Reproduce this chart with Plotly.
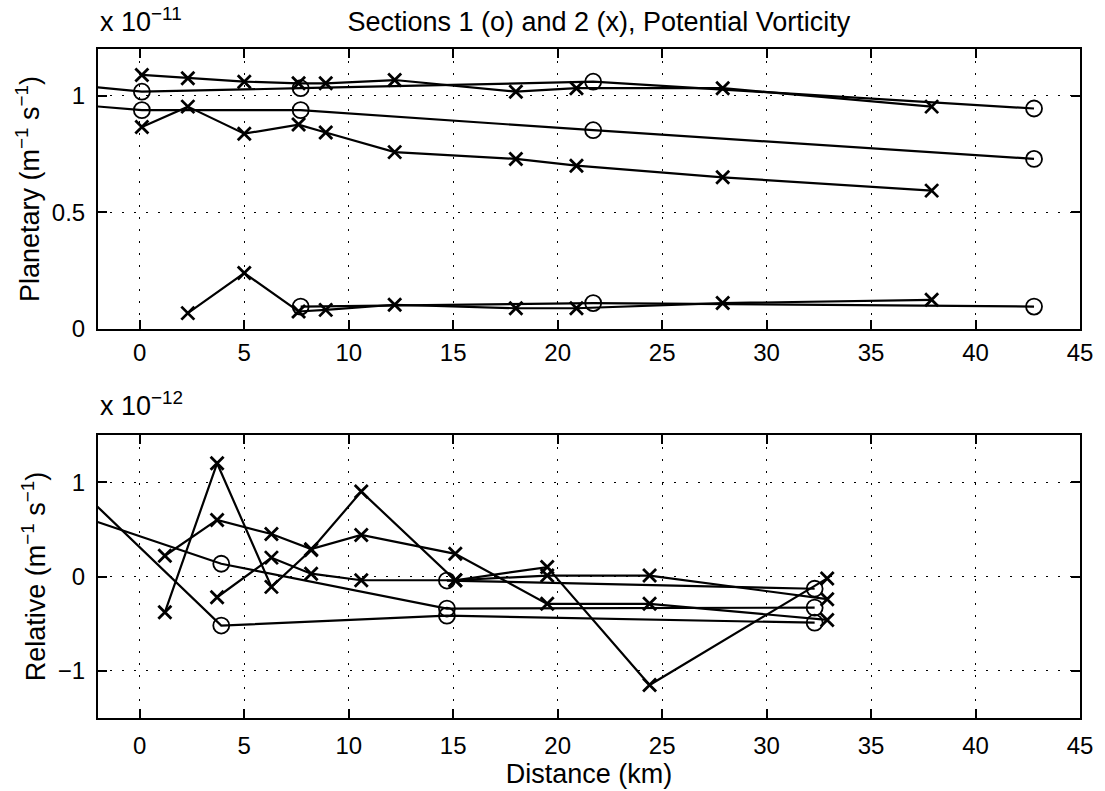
import plotly.graph_objects as go

# ---- Section station distances (km) ----
# Section 1 (o): first station lies west of the plotted range
sec1_dist = [-6.0, 0.1, 7.7, 21.7, 42.8]
# Section 2 (x)
sec2_dist = [0.1, 2.3, 5.0, 7.6, 8.9, 12.2, 18.0, 20.9, 27.9, 37.9]

# ---- Planetary potential vorticity, units of 1e-11 m^-1 s^-1 (three layers) ----
sec1_planetary_l1 = [1.071, 1.017, 1.032, 1.060, 0.945]
sec1_planetary_l2 = [0.983, 0.938, 0.938, 0.852, 0.729]
sec1_planetary_l3 = [None, None, 0.096, 0.111, 0.096]

sec2_planetary_l1 = [1.089, 1.075, 1.060, 1.053, 1.053, 1.067, 1.017, 1.032, 1.032, 0.953]
sec2_planetary_l2 = [0.866, 0.953, 0.837, 0.876, 0.842, 0.758, 0.729, 0.700, 0.650, 0.593]
sec2_planetary_l3 = [None, 0.068, 0.240, 0.075, 0.082, 0.104, 0.089, 0.089, 0.111, 0.125]

# ---- Relative vorticity at mid-station distances (km) ----
sec1_mid_dist = [-2.95, 3.9, 14.7, 32.3]
sec2_mid_dist = [1.2, 3.7, 6.3, 8.2, 10.6, 15.1, 19.5, 24.4, 32.9]

# units of 1e-12 m^-1 s^-1
sec1_relative_l1 = [0.937, -0.52, -0.415, -0.49]
sec1_relative_l2 = [0.648, 0.135, -0.34, -0.33]
sec1_relative_l3 = [None, None, -0.043, -0.13]

sec2_relative_l1 = [-0.38, 1.20, -0.11, 0.28, 0.90, -0.04, 0.10, -1.15, -0.02]
sec2_relative_l2 = [0.22, 0.60, 0.45, 0.29, 0.44, 0.24, -0.29, -0.29, -0.46]
sec2_relative_l3 = [None, -0.22, 0.20, 0.03, -0.04, -0.04, 0.01, 0.01, -0.24]

FONT = "Liberation Sans, Arial, Helvetica, sans-serif"
LINE_W = 2.2
TICK_SIZE = 24
LABEL_SIZE = 27

circle = dict(symbol="circle-open", size=16, color="black", line=dict(width=1.8, color="black"))
cross = dict(symbol="x-thin-open", size=13, color="black", line=dict(width=2.8, color="black"))

fig = go.Figure()


def add_series(x, y, marker, xa, ya):
    fig.add_trace(go.Scatter(
        x=x, y=y, mode="lines+markers", xaxis=xa, yaxis=ya,
        line=dict(color="black", width=LINE_W), marker=marker,
        showlegend=False, hoverinfo="x+y",
    ))


for ys in (sec1_planetary_l1, sec1_planetary_l2, sec1_planetary_l3):
    add_series(sec1_dist, ys, circle, "x", "y")
for ys in (sec2_planetary_l1, sec2_planetary_l2, sec2_planetary_l3):
    add_series(sec2_dist, ys, cross, "x", "y")
for ys in (sec1_relative_l1, sec1_relative_l2, sec1_relative_l3):
    add_series(sec1_mid_dist, ys, circle, "x2", "y2")
for ys in (sec2_relative_l1, sec2_relative_l2, sec2_relative_l3):
    add_series(sec2_mid_dist, ys, cross, "x2", "y2")

W, H = 1105, 791
ML, MR, MT, MB = 98, 17, 49, 73
plot_h = H - MT - MB
top_lo = (H - 329 - MB) / plot_h
bot_hi = (H - 435 - MB) / plot_h

axis_common = dict(
    showline=True, linecolor="black", linewidth=2, mirror="ticks",
    ticks="inside", ticklen=9, tickwidth=2, tickcolor="black",
    showgrid=True, gridcolor="black", gridwidth=1.3, griddash="2px,10px",
    zeroline=False,
    tickfont=dict(family=FONT, size=TICK_SIZE, color="black"),
)

label_font = dict(family=FONT, size=LABEL_SIZE, color="black")
x_ticks = list(range(0, 50, 5))

fig.update_layout(
    width=W, height=H,
    margin=dict(l=ML, r=MR, t=MT, b=MB),
    paper_bgcolor="white", plot_bgcolor="white",
    font=dict(family=FONT, color="black"),
    title=dict(
        text="Sections 1 (o) and 2 (x), Potential Vorticity",
        font=label_font,
        x=0.51, xref="paper", xanchor="center",
        y=1 - 22 / H, yref="container", yanchor="middle",
    ),
    xaxis=dict(axis_common, domain=[0, 1], range=[-2, 45], tickvals=x_ticks,
               anchor="y", ticklabelstandoff=1),
    yaxis=dict(axis_common, domain=[top_lo, 1], range=[0, 1.2], tickvals=[0, 0.5, 1],
               ticktext=["0", "0.5", "1"], anchor="x", ticklabelstandoff=6,
               title=dict(text="Planetary (m<sup>−1</sup> s<sup>−1</sup>)",
                          font=label_font, standoff=4)),
    xaxis2=dict(axis_common, domain=[0, 1], range=[-2, 45], tickvals=x_ticks,
                anchor="y2", ticklabelstandoff=5,
                title=dict(text="Distance (km)", font=label_font, standoff=0)),
    yaxis2=dict(axis_common, domain=[0, bot_hi], range=[-1.5, 1.5], tickvals=[-1, 0, 1],
                anchor="x2", ticklabelstandoff=6,
                title=dict(text="Relative (m<sup>−1</sup> s<sup>−1</sup>)",
                           font=label_font, standoff=4)),
    annotations=[
        dict(text="x 10<sup>−11</sup>", xref="paper", yref="paper", x=0, xanchor="left",
             y=1 + 10 / plot_h, yanchor="bottom", showarrow=False, font=label_font),
        dict(text="x 10<sup>−12</sup>", xref="paper", yref="paper", x=0, xanchor="left",
             y=bot_hi + 12 / plot_h, yanchor="bottom", showarrow=False, font=label_font),
    ],
)

fig.write_html("out.html")
